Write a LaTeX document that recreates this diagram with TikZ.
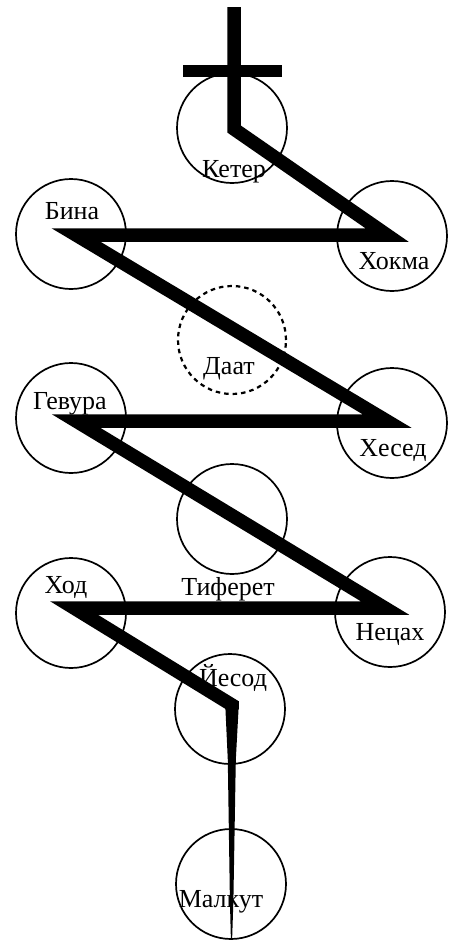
\documentclass[tikz,border=0pt]{standalone}
\usepackage{fontspec}
\setmainfont{Liberation Serif}
\begin{document}
\begin{tikzpicture}[x=1pt,y=-1pt,
  sefira/.style={circle, draw, line width=1.7pt, minimum size=110pt, inner sep=0pt},
  hidden/.style={sefira, dashed, dash pattern=on 4.5pt off 4pt, line width=2.2pt},
  lbl/.style={anchor=base, inner sep=0pt, font=\fontsize{26}{29}\selectfont},
  bolt/.style={line width=13.5pt, line join=miter, miter limit=10, line cap=butt}]
\useasboundingbox[fill=white] (0,0) rectangle (455,940);
% circles
\node[sefira] (keter) at (232,128) {};
\node[sefira] (bina) at (71,234) {};
\node[sefira] (hokhma) at (392,236) {};
\node[hidden, minimum size=108pt] (daat) at (232,340) {};
\node[sefira] (gevura) at (71,418) {};
\node[sefira] (hesed) at (392,423) {};
\node[sefira] (tiferet) at (232,519) {};
\node[sefira] (hod) at (71,613) {};
\node[sefira] (netzah) at (390,612) {};
\node[sefira] (yesod) at (230,709) {};
\node[sefira] (malkut) at (231,884) {};
% lightning bolt
\coordinate (c1) at (183,71);
\coordinate (c2) at (282,71);
\draw[line width=12pt] (c1) -- (c2);
\coordinate (b0) at (234,7);
\coordinate (b1) at (234,129);
\coordinate (b2) at (387,235);
\coordinate (b3) at (76,235);
\coordinate (b4) at (387,421);
\coordinate (b5) at (76,421);
\coordinate (b6) at (385,608);
\coordinate (b7) at (74,608);
\coordinate (b8) at (232,705);
\coordinate (b9) at (232,709);
\draw[bolt] (b0) -- (b1) -- (b2) -- (b3) -- (b4) -- (b5) -- (b6) -- (b7) -- (b8) -- (b9);
\coordinate (t1) at (225.4,708);
\coordinate (t2) at (238.6,708);
\coordinate (t3) at (235.8,760);
\coordinate (t4) at (233.4,900);
\coordinate (t5) at (232.1,940);
\coordinate (t6) at (230.9,940);
\coordinate (t7) at (229.9,900);
\coordinate (t8) at (227.8,760);
\fill (t1) -- (t2) -- (t3) -- (t4) -- (t5) -- (t6) -- (t7) -- (t8) -- cycle;
% labels
\node[lbl] (lketer) at (234,177) {Кетер};
\node[lbl] (lbina) at (72,219) {Бина};
\node[lbl] (lhokhma) at (394,269) {Хокма};
\node[lbl] (ldaat) at (229,374) {Даат};
\node[lbl] (lgevura) at (70,409) {Гевура};
\node[lbl] (lhesed) at (393,456) {Хесед};
\node[lbl] (ltiferet) at (228,595) {Тиферет};
\node[lbl] (lhod) at (66,593) {Ход};
\node[lbl] (lnetzah) at (390,640) {Нецах};
\node[lbl] (lyesod) at (233,686) {Йесод};
\node[lbl] (lmalkut) at (221,907) {Малкут};
\end{tikzpicture}
\end{document}
